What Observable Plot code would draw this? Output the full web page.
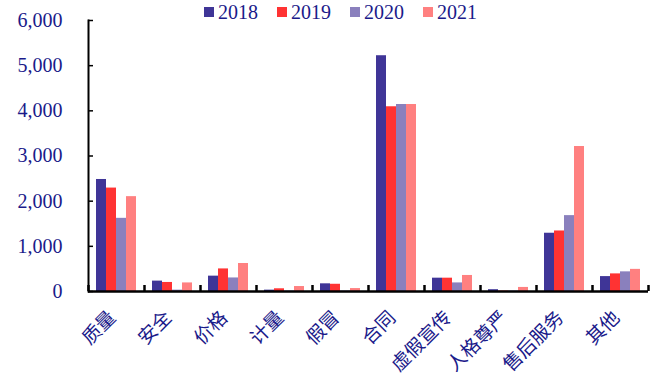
<!DOCTYPE html>
<html>
<head>
<meta charset="utf-8">
<script src="https://cdn.jsdelivr.net/npm/d3@7"></script>
<script src="https://cdn.jsdelivr.net/npm/@observablehq/plot@0.6"></script>
<style>
  html, body { margin: 0; padding: 0; background: #fff; }
  #wrap { position: relative; width: 656px; height: 379px; }
  #legend {
    position: absolute; top: 0; left: 204px; display: flex;
    font-family: "Liberation Serif", "Times New Roman", serif; font-size: 20px;
    color: #1a1a8a; line-height: 24px;
  }
  #legend .item { display: flex; align-items: center; width: 73px; }
  #legend .sw { width: 10px; height: 10px; margin-right: 4px; }
</style>
</head>
<body>
<div id="wrap"><div id="legend"></div></div>
<script>
// Complaint categories and yearly counts
const categories = ["质量", "安全", "价格", "计量", "假冒", "合同", "虚假宣传", "人格尊严", "售后服务", "其他"];
const years = ["2018", "2019", "2020", "2021"];
const v2018 = [2480, 230, 340, 30, 170, 5220, 295, 40, 1290, 330];
const v2019 = [2290, 200, 500, 60, 160, 4090, 295, 10, 1340, 390];
const v2020 = [1620, 30, 300, 10, 10, 4140, 190, 10, 1680, 435];
const v2021 = [2100, 190, 620, 110, 65, 4140, 355, 90, 3210, 490];
const yTicks = [0, 1000, 2000, 3000, 4000, 5000, 6000];
const colors = ["#3f3597", "#ff3333", "#8a80bd", "#ff8080"];

const series = [v2018, v2019, v2020, v2021];
const rows = [];
categories.forEach((cat, i) => {
  years.forEach((year, j) => rows.push({cat, year, value: series[j][i]}));
});

const navy = "#1a1a8a";
const band = 56; // width of one category column
const sepTick = {anchor: "bottom", tickSize: -6, tickFormat: () => "", stroke: "black", strokeWidth: 2.5, label: null};

const chart = Plot.plot({
  width: 656,
  height: 379,
  marginLeft: 88,
  marginRight: 8,
  marginTop: 20,
  marginBottom: 88,
  style: {fontFamily: "'Liberation Serif', 'Noto Sans CJK SC', serif", background: "white"},
  fx: {domain: categories, padding: 0, label: null, axis: null},
  x: {domain: years, paddingInner: 0, paddingOuter: 0.8, axis: null},
  y: {domain: [0, 6000], label: null},
  color: {domain: years, range: colors},
  marks: [
    Plot.barY(rows, {fx: "cat", x: "year", y: "value", fill: "year"}),
    Plot.axisY({
      ticks: yTicks, tickFormat: d3.format(","), tickSize: -5, tickPadding: 31,
      fontSize: 20, fill: navy, stroke: "black", strokeWidth: 1.5, label: null
    }),
    Plot.axisFx({
      anchor: "bottom", tickSize: 0, tickRotate: -45, tickPadding: 23, dx: -4, fontSize: 19, fill: navy,
      fontFamily: "'Noto Sans CJK SC', sans-serif", label: null
    }),
    // short separators between category columns
    Plot.axisFx({...sepTick, dx: -band / 2}),
    Plot.axisFx({...sepTick, ticks: [categories[categories.length - 1]], dx: band / 2}),
    Plot.frame({anchor: "left", facetAnchor: "left", stroke: "black", strokeWidth: 2}),
    Plot.ruleY([0], {stroke: "black", strokeWidth: 2.5})
  ]
});

document.getElementById("wrap").prepend(chart);

const legend = d3.select("#legend");
years.forEach((y, i) => {
  const item = legend.append("div").attr("class", "item");
  item.append("div").attr("class", "sw").style("background", colors[i]);
  item.append("span").text(y);
});
</script>
</body>
</html>
